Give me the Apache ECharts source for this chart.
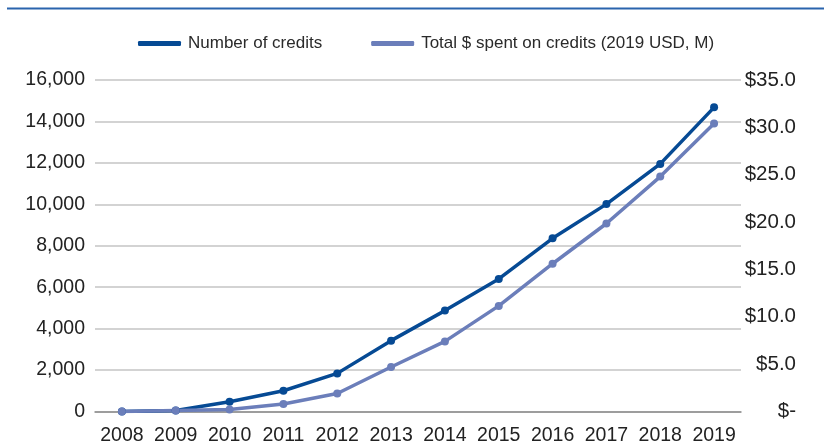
<!DOCTYPE html>
<html><head><meta charset="utf-8">
<script src="https://cdn.jsdelivr.net/npm/echarts@6/dist/echarts.min.js"></script>
<style>html,body{margin:0;padding:0;background:#fff}#c{width:824px;height:444px}</style>
</head><body><div id="c"></div>
<script>
var years = ['2008','2009','2010','2011','2012','2013','2014','2015','2016','2017','2018','2019'];
var creditsCount = [0, 50, 470, 1000, 1840, 3420, 4870, 6400, 8360, 10010, 11950, 14680];
var spentUSD = [0, 0.1, 0.2, 0.8, 1.9, 4.7, 7.4, 11.15, 15.6, 19.85, 24.8, 30.4];
var seriesNames = ['Number of credits', 'Total $ spent on credits (2019 USD, M)'];
var leftTicks = {min: 0, max: 16000, interval: 2000};
var rightTicks = {min: 0, max: 35, interval: 5};

var dark = '#064a94', light = '#6b7eba';
var font = 'Liberation Sans, Arial, Helvetica, sans-serif';
var chart = echarts.init(document.getElementById('c'), null, {renderer: 'canvas'});
chart.setOption({
  animation: false,
  graphic: [{type: 'line', shape: {x1: 7, y1: 8.5, x2: 824, y2: 8.5}, style: {stroke: '#2a64ad', lineWidth: 2}}],
  legend: {
    left: 138, top: 35, padding: 0, itemGap: 49, itemWidth: 43, itemHeight: 5, icon: 'roundRect',
    textStyle: {fontFamily: font, fontSize: 17, color: '#2a2a2a', padding: [0, 0, 0, 2]},
    data: seriesNames
  },
  grid: {left: 95, right: 83, top: 80, bottom: 32.5, outerBoundsMode: 'none', containLabel: false},
  xAxis: {
    type: 'category', data: years, boundaryGap: true,
    axisTick: {show: false},
    axisLine: {lineStyle: {color: '#8c8c8c', width: 1.5}},
    axisLabel: {fontFamily: font, fontSize: 19.5, color: '#222', margin: 14, interval: 0}
  },
  yAxis: [{
    type: 'value', min: leftTicks.min, max: leftTicks.max, interval: leftTicks.interval,
    axisLine: {show: false}, axisTick: {show: false},
    splitLine: {lineStyle: {color: '#c4c4c4', width: 1.5}},
    axisLabel: {fontFamily: font, fontSize: 19.5, color: '#222', margin: 10,
      formatter: function (v) { return v.toLocaleString('en-US'); }}
  }, {
    type: 'value', position: 'right', min: rightTicks.min, max: rightTicks.max, interval: rightTicks.interval,
    axisLine: {show: false}, axisTick: {show: false}, splitLine: {show: false},
    axisLabel: {fontFamily: font, fontSize: 20.5, color: '#222', margin: 55, align: 'right',
      formatter: function (v) { return v === 0 ? '$-' : '$' + v.toFixed(1); }}
  }],
  series: [{
    name: seriesNames[0], type: 'line', yAxisIndex: 0, data: creditsCount,
    symbol: 'circle', symbolSize: 8, lineStyle: {width: 3.5, color: dark}, itemStyle: {color: dark}
  }, {
    name: seriesNames[1], type: 'line', yAxisIndex: 1, data: spentUSD,
    symbol: 'circle', symbolSize: 8, lineStyle: {width: 3.5, color: light}, itemStyle: {color: light}
  }]
});
</script></body></html>
